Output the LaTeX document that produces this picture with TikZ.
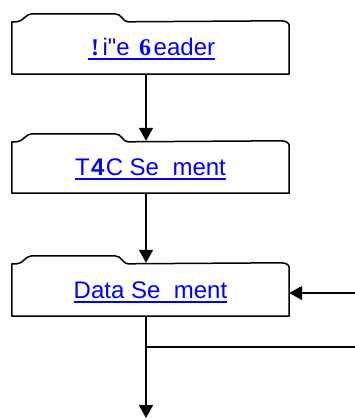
\documentclass[tikz,border=0pt]{standalone}
\usepackage{fontspec}
\setmainfont{Liberation Sans}
\newfontfamily\rawsans{Liberation Sans}[Ligatures=ResetAll]
\newfontfamily\serifbold{Liberation Serif}
\usetikzlibrary{arrows.meta,calc}

% a glyph centred in a slot of the given width
\newcommand\slot[2]{\makebox[#1][c]{#2}}

% folder-tab outline drawn around a named body node
\newcommand\tabfolder[1]{%
  \draw[boxline]
    ([yshift=-1pt]#1.north west) -- ++(5,0)
      .. controls ++(6,0) and ++(-6,0) .. ++(15,-8)
      -- ++(83,0)
      .. controls ++(7,0) and ++(-5,0) .. ++(13,8)
      -- ([xshift=-8pt]#1.north east)
      .. controls ++(6,0) and ++(0,-2) .. ([yshift=-5pt]#1.north east)
      -- (#1.south east) -- (#1.south west) -- cycle;}

\tikzset{
  boxline/.style={line width=1.5pt, line join=round},
  body/.style={rectangle, minimum width=277pt, minimum height=53pt, inner sep=0pt},
  label/.style={text=blue, font=\fontsize{24}{28}\selectfont, inner sep=0pt, anchor=base},
  link/.style={blue, line width=2pt},
  flow/.style={line width=1.5pt, -{Triangle[width=14pt,length=13pt]}},
  plain/.style={line width=1.5pt},
}

\begin{document}
\begin{tikzpicture}[x=1pt,y=-1pt]
  \useasboundingbox (0,0) rectangle (355,420);

  % folder bodies
  \node[body] (h1) at (150.5,47.5) {};
  \node[body, minimum height=52pt] (h2) at (150.5,167) {};
  \node[body] (h3) at (150.5,289.5) {};
  \tabfolder{h1}
  \tabfolder{h2}
  \tabfolder{h3}

  % titles
  \node[label] (t1) at (151.5,56) {\slot{.611em}{\serifbold\bfseries !}i{\rawsans"}e \slot{.722em}{\serifbold\bfseries 6}eader};
  \node[label] (t2) at (150.5,175) {T\slot{.667em}{\bfseries 4}C Se\hspace{.56em}ment};
  \node[label] (t3) at (150.5,298) {Data Se\hspace{.56em}ment};
  \foreach \t in {t1,t2,t3}
    \draw[link] ([yshift=-3.5pt]\t.base west) -- ([yshift=-3.5pt]\t.base east);

  % connectors
  \coordinate (c1) at (146,74);
  \coordinate (c2) at (146,193);
  \coordinate (c3) at (146,316);
  \coordinate (inR) at (355,293);
  \coordinate (split) at (146,347);
  \coordinate (outR) at (355,347);
  \coordinate (down) at (146,418);

  \draw[flow] (c1) -- (c1 |- h2.north);
  \draw[flow] (c2) -- (c2 |- h3.north);
  \draw[flow] (inR) -- (inR -| h3.east);
  \draw[flow] (c3) -- (down);
  \draw[plain] (split) -- (outR);
\end{tikzpicture}
\end{document}
